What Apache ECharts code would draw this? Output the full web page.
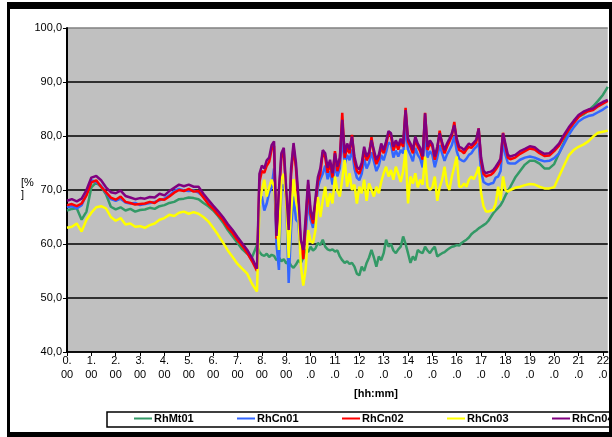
<!DOCTYPE html>
<html><head><meta charset="utf-8">
<script src="https://cdn.jsdelivr.net/npm/echarts@6/dist/echarts.min.js"></script>
<style>html,body{margin:0;padding:0;background:#fff}#c{width:612px;height:437px}</style>
</head><body><div id="c"></div>
<script>
// time of day in hours
const hours = [
0,0.2,0.4,0.6,0.8,1,1.2,1.4,1.6,1.8,2,2.2,2.4,2.6,2.8,3,3.2,3.4,3.6,3.8,
4,4.2,4.4,4.6,4.8,5,5.2,5.4,5.6,5.8,6,6.2,6.4,6.6,6.8,7,7.2,7.4,7.6,7.8,
7.9,8,8.1,8.2,8.3,8.4,8.5,8.6,8.7,8.8,
8.9,9,9.1,9.2,9.3,9.4,9.5,9.6,9.7,9.8,
9.9,10,10.1,10.2,10.3,10.4,10.5,10.6,10.7,10.8,
10.9,11,11.1,11.2,11.3,11.4,11.5,11.6,11.7,11.8,
11.9,12,12.1,12.2,12.3,12.4,12.5,12.6,12.7,12.8,
12.9,13,13.1,13.2,13.3,13.4,13.5,13.6,13.7,13.8,
13.9,14,14.1,14.2,14.3,14.4,14.5,14.6,14.7,14.8,
14.9,15,15.1,15.2,15.3,15.4,15.5,15.6,15.7,15.8,
15.9,16,16.1,16.2,16.3,16.4,16.5,16.6,16.7,16.8,
16.9,17,17.1,17.2,17.3,17.4,17.5,17.6,17.7,17.8,
17.9,18,18.1,18.2,
18.4,18.6,18.8,19,19.2,19.4,19.6,19.8,20,20.2,20.4,20.6,20.8,21,21.2,21.4,21.6,21.8,22,22.2
];
const seriesNames = ['RhMt01','RhCn01','RhCn02','RhCn03','RhCn04'];

const rhMt01 = [
66.2,66.5,66.6,64.5,66.0,70.5,71.4,70.6,69.2,66.9,
66.4,66.8,66.2,66.5,66.0,66.3,66.4,66.7,66.5,67.0,
67.2,67.6,67.8,68.3,68.4,68.6,68.5,68.3,67.6,67.0,
66.2,65.2,64.0,62.6,61.4,60.2,59.0,58.2,57.6,59.8,
58.5,58.0,57.8,58.2,57.6,58.0,57.8,57.0,57.5,56.8,
57.2,56.4,56.8,56.0,55.6,56.2,57.0,56.5,57.5,59.0,
58.5,59.5,58.8,59.2,60.2,59.8,60.8,59.5,59.0,58.8,
59.0,58.6,58.8,57.7,57.0,56.5,56.8,56.3,56.5,55.8,
54.5,54.2,55.8,55.0,56.5,57.5,58.9,57.5,55.8,57.7,
57.0,58.3,60.8,59.5,60.0,58.8,58.3,59.0,59.5,61.4,
60.0,58.3,56.5,57.7,57.0,58.9,58.5,58.3,59.5,58.8,
58.3,59.0,59.5,57.7,58.0,58.3,58.5,58.9,59.2,59.5,
59.6,59.8,59.7,60.2,60.5,60.8,61.2,61.8,62.2,62.5,
62.9,63.2,63.5,63.8,64.3,65.0,65.7,66.2,66.7,67.2,
68.0,69.0,69.8,70.6,
72.3,73.5,74.7,75.4,75.4,74.9,74.0,74.0,74.8,76.8,78.8,81.0,82.4,83.6,84.0,84.7,85.5,86.5,87.6,89.1
];
const rhCn01 = [
66.8,67.0,66.6,67.2,69.2,71.8,71.5,70.8,69.5,68.3,
68.0,68.4,67.7,67.5,67.6,67.2,67.4,67.6,67.8,68.1,
68.4,69.0,69.8,70.2,69.9,69.8,69.9,69.5,68.8,67.6,
66.6,65.6,64.6,63.3,62.1,61.0,59.8,58.4,56.9,55.3,
68.0,68.8,66.2,67.5,69.5,70.5,74.0,60.0,55.2,70.5,
71.0,68.5,52.8,63.0,68.8,64.5,64.0,57.3,58.0,62.0,
68.0,64.5,63.0,66.0,70.5,72.0,73.0,74.5,72.0,73.5,
71.0,74.8,72.5,74.0,80.0,74.8,76.5,75.5,77.5,74.0,
72.3,71.8,73.0,75.8,74.0,75.0,77.0,75.3,73.5,74.5,
76.5,75.5,77.0,78.8,78.5,76.0,77.3,76.2,77.4,76.8,
81.5,77.5,76.5,75.3,77.8,76.5,75.8,74.2,80.5,76.0,
77.2,76.5,74.2,76.0,78.3,76.8,75.4,76.6,77.4,78.3,
80.0,77.2,75.8,75.5,75.3,75.8,76.5,76.8,77.5,78.0,
78.6,73.5,71.5,71.2,71.0,71.2,71.3,72.3,72.5,73.5,
79.0,76.5,75.0,74.9,
74.9,75.6,76.0,76.2,76.0,75.6,75.3,75.4,75.9,76.8,78.5,80.2,81.6,82.7,83.3,83.7,83.9,84.4,84.9,85.5
];
const rhCn02 = [
67.2,67.4,67.0,67.5,69.0,71.4,71.8,70.6,69.6,68.6,
68.2,68.8,67.8,67.6,67.3,67.4,67.5,67.8,67.6,68.3,
68.2,68.8,69.5,70.0,69.8,70.2,69.7,69.8,68.6,67.4,
66.5,65.4,64.4,63.0,62.0,60.7,59.6,58.3,56.8,55.0,
71.5,73.5,73.2,74.5,75.2,77.5,78.2,61.0,69.0,76.0,
77.0,69.0,62.0,73.0,78.0,74.0,67.5,59.5,57.2,64.0,
71.0,65.5,63.8,67.5,71.6,73.0,77.0,76.0,73.2,75.0,
72.3,77.2,73.5,75.3,84.3,76.0,77.8,76.8,80.2,75.4,
73.5,73.0,74.3,77.3,75.5,76.3,79.8,76.6,74.8,75.8,
78.0,76.8,78.4,80.5,80.0,77.3,78.6,77.5,78.9,78.0,
85.2,79.0,78.0,76.8,79.5,78.0,77.2,75.6,84.3,77.4,
78.7,78.0,75.6,77.4,81.0,78.2,76.8,78.0,79.0,80.0,
82.6,79.0,77.4,77.2,76.8,77.5,78.0,77.8,78.3,78.8,
81.4,75.3,73.0,72.5,72.7,72.8,73.2,73.8,74.5,75.3,
80.6,78.0,76.0,75.7,
76.0,76.7,77.2,77.7,77.5,76.8,76.3,76.4,77.2,78.2,79.8,81.2,82.4,83.5,84.2,84.6,84.8,85.5,86.0,86.5
];
const rhCn03 = [
63.0,63.2,63.8,62.3,64.5,65.8,66.8,67.0,66.6,65.0,
64.3,64.8,63.6,63.8,63.2,63.3,63.0,63.5,63.8,64.5,
64.8,65.4,65.2,65.8,66.0,65.6,65.9,65.6,65.0,64.2,
63.0,61.7,60.3,58.8,57.6,56.3,55.4,54.5,52.6,51.2,
67.0,70.0,71.9,68.8,70.5,71.9,70.6,65.0,58.9,72.0,
73.0,68.0,57.4,66.0,72.0,68.0,65.7,56.0,52.3,55.5,
62.6,60.5,60.2,62.6,68.7,65.0,68.0,70.6,66.9,69.4,
67.5,72.5,69.8,68.8,72.0,75.6,70.6,73.1,70.0,71.0,
67.5,70.6,69.4,71.9,68.0,71.2,70.0,68.8,70.6,69.4,
71.5,73.1,74.3,72.5,73.7,71.9,74.3,73.0,71.5,73.5,
77.4,67.5,72.5,71.2,73.1,70.5,71.9,71.0,76.2,70.6,
70.0,70.5,72.5,68.0,70.5,71.9,74.3,71.0,70.0,72.5,
74.3,76.2,70.6,70.6,71.2,70.6,71.9,72.5,72.0,73.0,
74.3,69.4,67.0,66.0,66.0,66.2,66.3,67.5,70.6,68.1,
72.5,70.0,69.7,70.0,
70.4,70.6,70.9,71.1,71.0,70.6,70.3,70.3,70.5,72.5,74.5,76.4,77.4,78.0,78.4,79.0,79.9,80.6,80.8,81.0
];
const rhCn04 = [
68.0,68.3,67.9,68.4,70.0,72.3,72.6,71.8,70.5,69.6,
69.4,69.9,68.9,68.6,68.3,68.5,68.4,68.7,68.6,69.3,
69.0,69.8,70.4,71.0,70.7,71.0,70.6,70.6,69.3,68.2,
67.1,66.1,65.0,63.7,62.6,61.3,60.1,58.9,57.4,55.4,
73.0,74.5,74.0,75.5,76.0,78.3,79.0,61.5,70.0,76.8,
77.8,70.0,62.6,74.0,78.7,75.0,68.8,60.7,58.9,65.0,
71.9,66.3,64.5,68.5,72.4,74.0,77.4,76.8,74.1,75.6,
73.1,76.8,74.3,76.0,83.0,76.8,78.6,77.5,79.9,76.2,
74.3,73.8,75.0,78.0,76.2,77.0,79.2,77.4,75.6,76.5,
78.6,77.4,79.0,80.9,80.5,78.0,79.2,78.2,79.5,78.6,
84.8,79.5,78.6,77.4,79.9,78.6,77.8,76.2,84.2,78.0,
79.2,78.5,76.2,78.0,80.5,78.8,77.4,78.6,79.5,80.5,
82.0,79.5,78.0,77.8,77.4,78.0,78.6,78.3,78.8,79.3,
81.4,76.0,73.6,73.1,73.3,73.4,73.7,74.3,75.0,75.8,
80.5,78.5,76.5,76.2,
76.5,77.2,77.6,78.1,77.9,77.2,76.7,76.8,77.6,78.6,80.2,81.6,82.8,83.9,84.5,84.9,85.1,85.8,86.3,86.7
];
const seriesValues = [rhMt01, rhCn01, rhCn02, rhCn03, rhCn04];
const seriesColors = ['#339966', '#3366FF', '#FF0000', '#FFFF00', '#800080'];
const legendLefts = [134, 237, 342, 447, 552];

const FONT = '"Liberation Sans", Arial, sans-serif';
const chart = echarts.init(document.getElementById('c'), null, {renderer: 'canvas'});
const option = {
  animation: false,
  backgroundColor: '#ffffff',
  grid: {left: 67, top: 28, width: 542, height: 324, show: true, backgroundColor: '#C0C0C0', borderWidth: 0},
  xAxis: {
    type: 'value', min: 0, max: 22.2, interval: 1,
    axisLine: {show: true, onZero: false, lineStyle: {color: '#000', width: 1.5}},
    axisTick: {show: true, length: 4, lineStyle: {color: '#000', width: 1}},
    splitLine: {show: false},
    axisLabel: {
      margin: 2, fontSize: 11, lineHeight: 14, color: '#000', fontFamily: FONT,
      showMaxLabel: false,
      formatter: v => Number.isInteger(v) ? (v < 10 ? v + '.\n00' : v + '\n.0') : ''
    }
  },
  yAxis: {
    type: 'value', min: 40, max: 100, interval: 10,
    axisLine: {show: true, lineStyle: {color: '#000', width: 2}},
    axisTick: {show: true, length: 4, lineStyle: {color: '#000', width: 1}},
    splitLine: {show: true, lineStyle: {color: ['#000', '#000', '#000', '#000', '#000', '#000', '#808080'], width: 1.5}},
    axisLabel: {margin: 5, fontSize: 11, color: '#000', fontFamily: FONT,
      formatter: v => v.toFixed(1).replace('.', ',')}
  },
  legend: seriesNames.map((name, k) => ({
    left: legendLefts[k], top: 413, padding: 0, itemWidth: 18, itemHeight: 2, icon: 'rect',
    textStyle: {fontSize: 11, fontWeight: 'bold', color: '#000', fontFamily: FONT, padding: [0, 0, 0, -3]},
    data: [name]
  })),
  graphic: [
    {type: 'rect', shape: {x: 107, y: 412, width: 520, height: 15}, style: {fill: 'none', stroke: '#000', lineWidth: 1.5}, z: 100},
    {type: 'rect', shape: {x: 7, y: 2, width: 605, height: 7}, style: {fill: '#000'}, z: 100},
    {type: 'rect', shape: {x: 7, y: 2, width: 3, height: 435}, style: {fill: '#000'}, z: 100},
    {type: 'rect', shape: {x: 7, y: 432, width: 605, height: 5}, style: {fill: '#000'}, z: 100},
    {type: 'rect', shape: {x: 609, y: 2, width: 3, height: 435}, style: {fill: '#000'}, z: 100},
    {type: 'text', left: 21, top: 177, style: {text: '[%\n]', fontSize: 11, lineHeight: 12, fill: '#000', font: '11px ' + FONT}},
    {type: 'text', left: 354, top: 388, style: {text: '[hh:mm]', fill: '#000', font: 'bold 11px ' + FONT}}
  ],
  series: seriesNames.map((name, k) => ({
    name: name, type: 'line', symbol: 'none', showSymbol: false,
    lineStyle: {color: seriesColors[k], width: 2.5},
    itemStyle: {color: seriesColors[k]},
    data: hours.map((h, i) => [h, seriesValues[k][i]])
  }))
};
chart.setOption(option);
</script>
</body></html>
